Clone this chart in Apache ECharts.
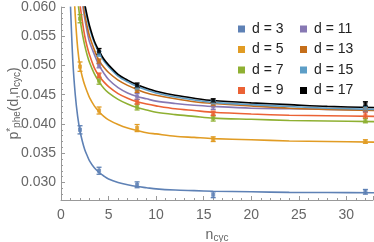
<!DOCTYPE html>
<html><head><meta charset="utf-8">
<script src="https://cdn.jsdelivr.net/npm/echarts@6/dist/echarts.min.js"></script>
<style>html,body{margin:0;padding:0;background:#fff}#c{width:374px;height:242px}</style>
</head><body><div id="c"></div>
<script>
// ---- data ----
const names = ['d = 3','d = 5','d = 7','d = 9','d = 11','d = 13','d = 15','d = 17'];
const colors = ['#5E81B5','#E19C24','#8FB032','#EB6235','#8778B3','#C56E1A','#5D9EC7','#000000'];
const nCyc = [2, 4, 8, 16, 32];
// measured points (null = off chart)
const pts3  = [0.0390, 0.0320, 0.0296, 0.0279, 0.0284];
const pts5  = [0.0498, 0.0423, 0.0393, 0.0374, 0.0370];
const pts7  = [0.0580, 0.0474, 0.0429, 0.0410, 0.0406];
const pts9  = [null, 0.0483, 0.0438, 0.0418, 0.0415];
const pts11 = [null, 0.0500, 0.0447, 0.0430, 0.0424];
const pts13 = [null, 0.0507, 0.0458, 0.0434, 0.0425];
const pts15 = [null, 0.0520, 0.0462, 0.0437, 0.0427];
const pts17 = [null, 0.0524, 0.0466, 0.0440, 0.0434];
// error half-widths
const err3  = [0.0007, 0.0006, 0.0005, 0.0005, 0.0004];
const err5  = [0.0008, 0.0006, 0.0006, 0.0004, 0.0003];
const err7  = [0.0007, 0.0006, 0.0005, 0.0005, 0.0004];
const err9  = [0, 0.0004, 0.0004, 0.0004, 0.0005];
const err11 = [0, 0.0004, 0.0005, 0.0005, 0.0003];
const err13 = [0, 0.0004, 0.0004, 0.0003, 0.0003];
const err15 = [0, 0.0004, 0.0004, 0.0003, 0.0004];
const err17 = [0, 0.0005, 0.0004, 0.0003, 0.0004];
// fitted curves sampled
const nFit = [1, 1.25, 1.5, 1.75, 2, 2.25, 2.5, 2.75, 3, 3.5, 4, 4.5, 5, 6, 7, 8, 9, 10, 12, 14, 16, 20, 24, 28, 33];
const fit3  = [0.0601, 0.0506, 0.0450, 0.0413, 0.0388, 0.0370, 0.0356, 0.0346, 0.0337, 0.0325, 0.0317, 0.0311, 0.0306, 0.0300, 0.0296, 0.0293, 0.0291, 0.0289, 0.0287, 0.0286, 0.0285, 0.0284, 0.0283, 0.02827, 0.02823];
const fit5  = [null, 0.0660, 0.0585, 0.0530, 0.0498, 0.0480, 0.0466, 0.0455, 0.0445, 0.0431, 0.0421, 0.0413, 0.0407, 0.0399, 0.0393, 0.0389, 0.0385, 0.0383, 0.0379, 0.0377, 0.0375, 0.0373, 0.0371, 0.0370, 0.0369];
const fit7  = [null, null, 0.0662, 0.0614, 0.0580, 0.0554, 0.0534, 0.0518, 0.0505, 0.0486, 0.0472, 0.0461, 0.0453, 0.0442, 0.0434, 0.0428, 0.0424, 0.0420, 0.0416, 0.0413, 0.0410, 0.0408, 0.0406, 0.0405, 0.0404];
const fit9  = [null, null, null, 0.0660, 0.0605, 0.0575, 0.0550, 0.0532, 0.0518, 0.0496, 0.0482, 0.0472, 0.0464, 0.0452, 0.0444, 0.0438, 0.0434, 0.0431, 0.0426, 0.0423, 0.0420, 0.0417, 0.0415, 0.0414, 0.0413];
const fit11 = [null, null, null, 0.0720, 0.0640, 0.0607, 0.0580, 0.0558, 0.0540, 0.0519, 0.0500, 0.0487, 0.0476, 0.0462, 0.0453, 0.0447, 0.0443, 0.0439, 0.0435, 0.0432, 0.0430, 0.0427, 0.0426, 0.0425, 0.0424];
const fit13 = [null, null, null, 0.0730, 0.0650, 0.0617, 0.0588, 0.0567, 0.0550, 0.0527, 0.0508, 0.0497, 0.0488, 0.0475, 0.0466, 0.0459, 0.0453, 0.0449, 0.0443, 0.0438, 0.0435, 0.0431, 0.0427, 0.0425, 0.0423];
const fit15 = [null, null, null, 0.0745, 0.0660, 0.0628, 0.0600, 0.0580, 0.0563, 0.0539, 0.0522, 0.0508, 0.0498, 0.0482, 0.0472, 0.0464, 0.0458, 0.0453, 0.0446, 0.0441, 0.0437, 0.0433, 0.0430, 0.0427, 0.0425];
const fit17 = [null, null, null, 0.0750, 0.0665, 0.0633, 0.0605, 0.0585, 0.0568, 0.0542, 0.0525, 0.0511, 0.0501, 0.0485, 0.0475, 0.0467, 0.0461, 0.0456, 0.0449, 0.0444, 0.0440, 0.0436, 0.0433, 0.0430, 0.0428];
const yMajor = [0.030, 0.035, 0.040, 0.045, 0.050, 0.055, 0.060];

const pts = [pts3, pts5, pts7, pts9, pts11, pts13, pts15, pts17];
const errs = [err3, err5, err7, err9, err11, err13, err15, err17];
const fits = [fit3, fit5, fit7, fit9, fit11, fit13, fit15, fit17];

const chart = echarts.init(document.getElementById('c'), null, {renderer: 'canvas'});
const series = [];
names.forEach((nm, i) => {
  series.push({
    name: nm, type: 'line', xAxisIndex: 0, yAxisIndex: 0,
    data: nFit.map((n, k) => [n, fits[i][k]]),
    smooth: 0.3, showSymbol: false, symbol: 'none',
    lineStyle: {color: colors[i], width: 1.6}, itemStyle: {color: colors[i]},
    clip: true, z: 2 + i * 0.1, animation: false
  });
  series.push({
    name: nm, type: 'custom', xAxisIndex: 0, yAxisIndex: 0,
    data: nCyc.map((n, k) => pts[i][k] == null ? null : [n, pts[i][k] - errs[i][k], pts[i][k] + errs[i][k]]).filter(d => d),
    renderItem: function (params, api) {
      const lo = api.coord([api.value(0), api.value(1)]);
      const hi = api.coord([api.value(0), api.value(2)]);
      const w = 2.5;
      const st = {stroke: colors[i], lineWidth: 1.3};
      return {type: 'group', children: [
        {type: 'line', shape: {x1: lo[0], y1: lo[1], x2: hi[0], y2: hi[1]}, style: st},
        {type: 'line', shape: {x1: lo[0]-w, y1: lo[1], x2: lo[0]+w, y2: lo[1]}, style: st},
        {type: 'line', shape: {x1: hi[0]-w, y1: hi[1], x2: hi[0]+w, y2: hi[1]}, style: st}
      ]};
    },
    itemStyle: {color: colors[i]}, z: 3, animation: false
  });
  series.push({
    name: nm, type: 'scatter', xAxisIndex: 0, yAxisIndex: 0,
    data: nCyc.map((n, k) => [n, pts[i][k]]).filter(d => d[1] != null),
    symbol: 'rect', symbolSize: 4, itemStyle: {color: colors[i]}, z: 3, animation: false
  });
});

const legendStyle = {
  orient: 'vertical', icon: 'rect', itemWidth: 7, itemHeight: 7, itemGap: 6.5,
  textStyle: {fontFamily: 'Liberation Sans', fontSize: 14, color: '#222', lineHeight: 14, padding: [0,0,0,2]},
  selectedMode: false
};
const axisFont = {fontFamily: 'Liberation Sans', fontSize: 14, color: '#666'};

chart.setOption({
  animation: false,
  grid: {left: 61, right: 1, top: 7, bottom: 42, containLabel: false, outerBoundsMode: 'none'},
  legend: [
    Object.assign({left: 233, top: 17, data: names.slice(0, 4).map(n => ({name: n, itemStyle: {color: colors[names.indexOf(n)]}}))}, legendStyle),
    Object.assign({left: 295, top: 17, data: names.slice(4).map(n => ({name: n, itemStyle: {color: colors[names.indexOf(n)]}}))}, legendStyle)
  ],
  xAxis: [{
    type: 'value', min: 0, max: 32.8, interval: 5,
    axisLine: {lineStyle: {color: '#999', width: 1}},
    axisTick: {inside: true, length: 4, lineStyle: {color: '#999'}},
    minorTick: {show: true, splitNumber: 5, length: 2, lineStyle: {color: '#999'}},
    splitLine: {show: false},
    axisLabel: Object.assign({margin: 8, showMaxLabel: false, formatter: v => v === 35 ? '' : String(v)}, axisFont),
    name: '{n|n}{s|cyc}', nameLocation: 'middle', nameGap: 27,
    nameTextStyle: {rich: {
      n: {fontFamily: 'Liberation Sans', fontSize: 14, color: '#666'},
      s: {fontFamily: 'Liberation Sans', fontSize: 10, color: '#666', verticalAlign: 'bottom', padding: [6,0,0,0]}
    }}
  }],
  yAxis: [{
    type: 'value', min: 0.027, max: 0.060, interval: 0.001,
    axisLine: {show: true, lineStyle: {color: '#999', width: 1}},
    axisTick: {show: true, inside: true, length: 2, lineStyle: {color: '#999'}},
    axisLabel: {show: false}, splitLine: {show: false},
    name: '{p|p}{sp|*}{s|phe}{p|(d,n}{s|cyc}{p|)}', nameLocation: 'middle', nameRotate: 90, nameGap: 39,
    nameTextStyle: {rich: {
      p: {fontFamily: 'Liberation Sans', fontSize: 14, color: '#666'},
      sp: {fontFamily: 'Liberation Sans', fontSize: 10, color: '#666', verticalAlign: 'top', padding: [0,0,6,0]},
      s: {fontFamily: 'Liberation Sans', fontSize: 10, color: '#666', verticalAlign: 'bottom', padding: [6,0,0,0]}
    }}
  }, {
    type: 'value', position: 'left', min: 0.027, max: 0.060,
    axisLine: {show: false},
    axisTick: {show: true, inside: true, length: 4, customValues: yMajor, lineStyle: {color: '#999'}},
    axisLabel: Object.assign({customValues: yMajor, margin: 5, formatter: v => v.toFixed(3)}, axisFont),
    splitLine: {show: false}
  }],
  series: series
});
</script>
</body></html>
